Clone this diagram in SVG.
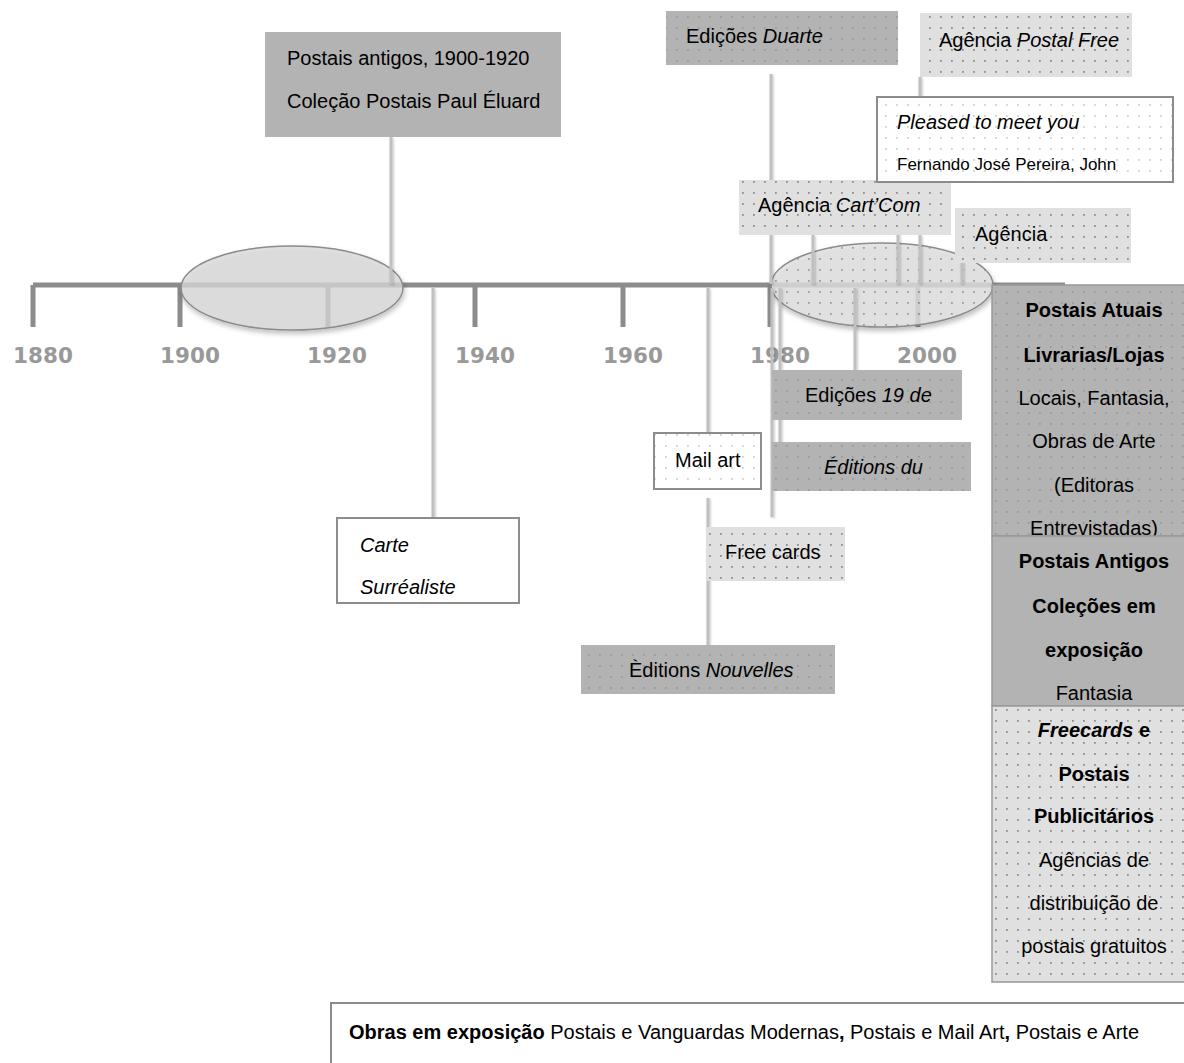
<svg xmlns="http://www.w3.org/2000/svg" width="1184" height="1063" viewBox="0 0 1184 1063">
<style>
.t{font-family:"Liberation Sans",Arial,sans-serif;font-size:20px;fill:#000}
.b{font-weight:bold}
.i{font-style:italic}
.s{font-size:17px}
.yr{font-family:"DejaVu Sans",sans-serif;font-weight:bold;font-size:21.5px;fill:#999}
.axis{stroke:#8c8c8c;stroke-width:5;fill:none}
.tick{stroke:#8c8c8c;stroke-width:5;fill:none}
.con{stroke:#c0c0c0;stroke-width:3;fill:none}
.dark{fill:url(#dotsDark)}
.light{fill:url(#dotsLight)}
.white{fill:url(#dotsWhite);stroke:#8c8c8c;stroke-width:2}
.col{stroke:#999;stroke-width:1.5}
</style>
<defs>
<pattern id="dotsLight" width="11" height="11" patternUnits="userSpaceOnUse"><rect width="11" height="11" fill="#e0e0e0"/><rect x="5" y="5" width="1.8" height="1.8" fill="#8f8f8f"/></pattern>
<pattern id="dotsDark" width="11" height="11" patternUnits="userSpaceOnUse"><rect width="11" height="11" fill="#b3b3b3"/><rect x="5" y="5" width="1.8" height="1.8" fill="#9a9a9a"/></pattern>
<pattern id="dotsWhite" width="11" height="11" patternUnits="userSpaceOnUse"><rect width="11" height="11" fill="#ffffff"/><rect x="5" y="5" width="1.8" height="1.8" fill="#d0d0d0"/></pattern>
<filter id="sh" x="-20%" y="-30%" width="140%" height="160%"><feDropShadow dx="1" dy="3" stdDeviation="2.5" flood-color="#000" flood-opacity="0.3"/></filter>
<filter id="lsh" x="-200%" y="-5%" width="500%" height="110%"><feDropShadow dx="1" dy="1" stdDeviation="1" flood-color="#000" flood-opacity="0.25"/></filter>
<clipPath id="cCarte"><rect x="337" y="518" width="182" height="84"/></clipPath>
<clipPath id="cAtuais"><rect x="992" y="285" width="210" height="251"/></clipPath>
<clipPath id="cAntigos"><rect x="992" y="536" width="210" height="169"/></clipPath>
</defs>

<g id="timeline">
<path class="axis" d="M33,285 H1065"/>
<path class="tick" d="M33,285 V327 M180,285 V327 M328,285 V327 M475,285 V327 M623,285 V327 M770,285 V327 M918,285 V327"/>
<text class="yr" x="13" y="363">1880</text>
<text class="yr" x="160" y="363">1900</text>
<text class="yr" x="307" y="363">1920</text>
<text class="yr" x="455" y="363">1940</text>
<text class="yr" x="603" y="363">1960</text>
<text class="yr" x="750" y="363">1980</text>
<text class="yr" x="897" y="363">2000</text>
</g>

<g id="periodo-1900-1920">
<ellipse cx="292" cy="288" rx="111" ry="42" fill="#d9d9d9" fill-opacity="0.75" stroke="#8c8c8c" stroke-width="1.5" filter="url(#sh)"/>
</g>
<g id="periodo-1980-2000">
<ellipse cx="882" cy="285" rx="111" ry="42" fill="url(#dotsLight)" fill-opacity="0.8" stroke="#8c8c8c" stroke-width="1.5" filter="url(#sh)"/>
</g>

<g id="connectors" filter="url(#lsh)">
<path class="con" d="M391,137 V284"/>
<path class="con" d="M433,288 V518"/>
<path class="con" d="M708,288 V433 M708,498 V645"/>
<path class="con" d="M772,288 V517"/>
<path class="con" d="M780,288 V443"/>
<path class="con" d="M855,288 V370"/>
<path class="con" d="M771,74 V180 M771,222 V284"/>
<path class="con" d="M813,235 V284"/>
<path class="con" d="M898,205 V284"/>
<path class="con" d="M920,77 V97 M920,235 V284"/>
<path class="con" d="M962,255 V284"/>
</g>

<g id="postais-antigos-1900">
<rect x="265" y="32" width="296" height="105" fill="#b3b3b3"/>
<text class="t" x="287" y="65">Postais antigos, 1900-1920</text>
<text class="t" x="287" y="108">Coleção Postais Paul Éluard</text>
</g>

<g id="edicoes-duarte">
<rect x="666" y="11" width="232" height="54" class="dark"/>
<text class="t" x="686" y="43">Edições <tspan class="i">Duarte</tspan></text>
</g>

<g id="agencia-postal-free">
<rect x="920" y="13" width="212" height="64" class="light"/>
<text class="t" x="939" y="47">Agência <tspan class="i">Postal Free</tspan></text>
</g>

<g id="agencia-cartcom">
<rect x="739" y="180" width="212" height="55" class="light"/>
<text class="t" x="758" y="212">Agência <tspan class="i">Cart’Com</tspan></text>
</g>

<g id="pleased-to-meet-you">
<rect x="877" y="97" width="296" height="85" class="white"/>
<text class="t i" x="897" y="129">Pleased to meet you</text>
<text class="t s" x="897" y="170">Fernando José Pereira, John</text>
</g>

<g id="agencia">
<rect x="955" y="208" width="176" height="55" class="light"/>
<text class="t" x="975" y="241">Agência</text>
</g>

<g id="edicoes-19">
<rect x="772" y="370" width="190" height="50" class="dark"/>
<text class="t" x="805" y="402">Edições <tspan class="i">19 de</tspan></text>
</g>

<g id="editions-du">
<rect x="772" y="442" width="199" height="49" class="dark"/>
<text class="t i" x="824" y="474">Éditions du</text>
</g>

<g id="mail-art">
<rect x="654" y="433" width="107" height="56" class="white"/>
<text class="t" x="675" y="467">Mail art</text>
</g>

<g id="free-cards">
<rect x="706" y="527" width="139" height="54" class="light"/>
<text class="t" x="725" y="559">Free cards</text>
</g>

<g id="editions-nouvelles">
<rect x="581" y="645" width="254" height="49" class="dark"/>
<text class="t" x="629" y="677">Èditions <tspan class="i">Nouvelles</tspan></text>
</g>

<g id="carte-surrealiste">
<rect x="337" y="518" width="182" height="85" fill="#fff" stroke="#8c8c8c" stroke-width="2"/>
<g clip-path="url(#cCarte)">
<text class="t i" x="360" y="552">Carte</text>
<text class="t i" x="360" y="594">Surréaliste</text>
</g>
</g>

<g id="postais-atuais">
<rect x="992" y="285" width="210" height="251" class="dark col"/>
<g clip-path="url(#cAtuais)" text-anchor="middle">
<text class="t b" x="1094" y="317">Postais Atuais</text>
<text class="t b" x="1094" y="362">Livrarias/Lojas</text>
<text class="t" x="1094" y="405">Locais, Fantasia,</text>
<text class="t" x="1094" y="448">Obras de Arte</text>
<text class="t" x="1094" y="492">(Editoras</text>
<text class="t" x="1094" y="535">Entrevistadas)</text>
</g>
</g>

<g id="postais-antigos">
<rect x="992" y="536" width="210" height="170" fill="#b3b3b3" class="col"/>
<g clip-path="url(#cAntigos)" text-anchor="middle">
<text class="t b" x="1094" y="568">Postais Antigos</text>
<text class="t b" x="1094" y="613">Coleções em</text>
<text class="t b" x="1094" y="657">exposição</text>
<text class="t" x="1094" y="700">Fantasia</text>
</g>
</g>

<g id="freecards">
<rect x="992" y="706" width="210" height="276" class="light col"/>
<g text-anchor="middle">
<text class="t b" x="1094" y="737"><tspan class="i">Freecards</tspan> e</text>
<text class="t b" x="1094" y="781">Postais</text>
<text class="t b" x="1094" y="823">Publicitários</text>
<text class="t" x="1094" y="867">Agências de</text>
<text class="t" x="1094" y="910">distribuição de</text>
<text class="t" x="1094" y="953">postais gratuitos</text>
</g>
</g>

<g id="obras-em-exposicao">
<rect x="331" y="1003" width="900" height="80" fill="#fff" stroke="#8c8c8c" stroke-width="2"/>
<text class="t" x="349" y="1039"><tspan class="b">Obras em exposição</tspan> Postais e Vanguardas Modernas<tspan class="b">,</tspan> Postais e Mail Art<tspan class="b">,</tspan> Postais e Arte</text>
</g>
</svg>
